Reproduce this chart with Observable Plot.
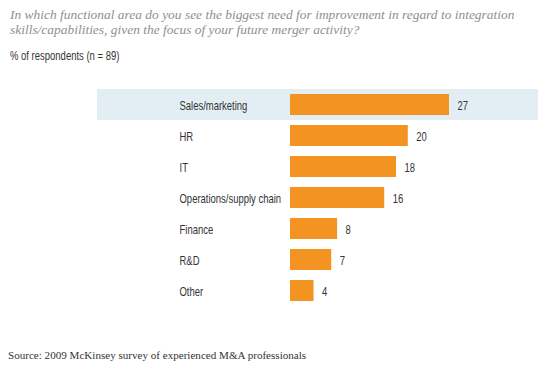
<!DOCTYPE html>
<html>
<head>
<meta charset="utf-8">
<script src="https://cdn.jsdelivr.net/npm/d3@7"></script>
<script src="https://cdn.jsdelivr.net/npm/@observablehq/plot@0.6"></script>
<style>
  html, body { margin: 0; padding: 0; background: #fff; }
  #wrap { position: relative; width: 545px; height: 374px; overflow: hidden; }
  .title { position: absolute; left: 10px; top: 7px; white-space: nowrap; font-family: "Liberation Serif", serif; font-style: italic; font-size: 13.5px; line-height: 15px; color: #8f8f8f; }
  .sub { position: absolute; left: 10px; top: 49px; white-space: nowrap; font-size: 12px; color: #333; transform-origin: 0 0; }
  .src { position: absolute; left: 8px; top: 349px; white-space: nowrap; font-family: "Liberation Serif", serif; font-size: 11.1px; color: #333; }
  #chart { position: absolute; left: 0; top: 80px; }
</style>
</head>
<body>
<div id="wrap">
  <div class="title" id="title"></div>
  <div class="sub" id="sub"></div>
  <div id="chart"></div>
  <div class="src" id="src"></div>
</div>
<script>
const titleLines = ["In which functional area do you see the biggest need for improvement in regard to integration", "skills/capabilities, given the focus of your future merger activity?"];
const subtitle = "% of respondents (n = 89)";
const source = "Source: 2009 McKinsey survey of experienced M&A professionals";
const categories = ["Sales/marketing", "HR", "IT", "Operations/supply chain", "Finance", "R&D", "Other"];
const values = [27, 20, 18, 16, 8, 7, 4];
const highlighted = ["Sales/marketing"];

const data = categories.map((c, i) => ({category: c, value: values[i]}));

// --- font helpers ---
const ctx = document.createElement("canvas").getContext("2d");
function textWidth(str, font) { ctx.font = font; return ctx.measureText(str).width; }
function hasFont(name) {
  const s = "abcdefghijklmnopqrstuvwxyz0123456789";
  return textWidth(s, `12px "${name}", monospace`) !== textWidth(s, "12px monospace");
}
const sansName = ["Liberation Sans Narrow", "Arial Narrow", "Liberation Sans"].find(hasFont) || "Liberation Sans";
const sansFont = `"${sansName}", "Liberation Sans", sans-serif`;
// horizontal squeeze so that the sans text has the reference's condensed width
const k = 68 / textWidth("Sales/marketing", `12px ${sansFont}`);

// title: fit first line to reference width
const tFont = `italic 14px "Liberation Serif", serif`;
const tSize = 14 * 505 / textWidth(titleLines[0], tFont);
const titleEl = document.getElementById("title");
titleEl.style.fontSize = tSize + "px";
titleEl.innerHTML = "";
titleLines.forEach((l, i) => { if (i) titleEl.appendChild(document.createElement("br")); titleEl.appendChild(document.createTextNode(l)); });

const subEl = document.getElementById("sub");
subEl.textContent = subtitle;
subEl.style.fontFamily = sansFont;
subEl.style.transform = `scale(${k},1)`;

const srcEl = document.getElementById("src");
srcEl.textContent = source;
srcEl.style.fontSize = (12 * 299 / textWidth(source, `12px "Liberation Serif", serif`)) + "px";

// --- chart layout (pixels) ---
const W = 545, frameLeft = 97, frameRight = 538, barLeft = 290, barMaxRight = 449;
const pxPerUnit = (barMaxRight - barLeft) / d3.max(values);
const xMin = -(barLeft - frameLeft) / pxPerUnit;
const xMax = (frameRight - barLeft) / pxPerUnit;

const chart = Plot.plot({
  width: W,
  height: 235,
  marginLeft: frameLeft,
  marginRight: W - frameRight,
  marginTop: 4,
  marginBottom: 4,
  x: {domain: [xMin, xMax], axis: null},
  y: {domain: categories, padding: 0.32, axis: null},
  style: {fontFamily: sansFont, fontSize: "12px", color: "#333", background: "transparent"},
  marks: [
    Plot.barX(highlighted, {y: d => d, x1: xMin, x2: xMax, fill: "#e3eef4", insetTop: -5, insetBottom: -5}),
    Plot.barX(data, {y: "category", x: "value", fill: "#f39322"}),
    Plot.text(data, {y: "category", text: "category", frameAnchor: "left", dx: 82, dy: 1.5, textAnchor: "start", fill: "#333", fontSize: 12}),
    Plot.text(data, {y: "category", x: "value", text: d => String(d.value), dx: 8, dy: 1.5, textAnchor: "start", fill: "#333", fontSize: 12})
  ]
});
chart.querySelectorAll("text").forEach(t => {
  const tr = t.getAttribute("transform") || "";
  t.setAttribute("transform", `${tr} scale(${k},1)`);
});
document.getElementById("chart").appendChild(chart);
</script>
</body>
</html>
